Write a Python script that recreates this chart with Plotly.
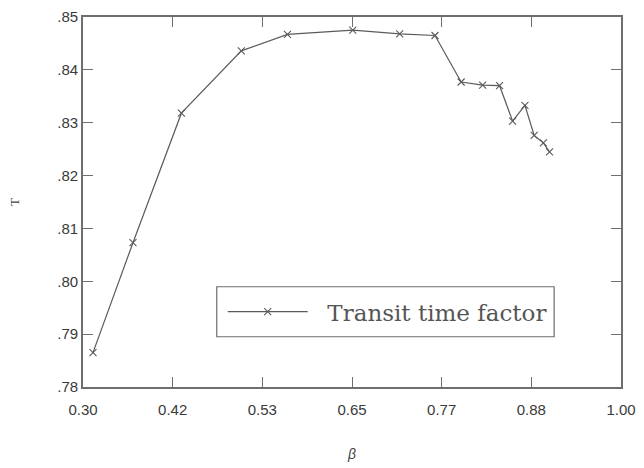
import plotly.graph_objects as go

beta = [0.313, 0.365, 0.428, 0.506, 0.566, 0.651, 0.712, 0.758, 0.792, 0.820,
        0.842, 0.859, 0.875, 0.887, 0.899, 0.907]
transit = [0.7865, 0.8073, 0.8318, 0.8436, 0.8467, 0.8475, 0.8468, 0.8465, 0.8377,
           0.8371, 0.8370, 0.8303, 0.8333, 0.8276, 0.8262, 0.8245]

x_tickvals = [0.3 + k * 0.7 / 6 for k in range(7)]
x_ticktext = ["0.30", "0.42", "0.53", "0.65", "0.77", "0.88", "1.00"]
y_tickvals = [0.78, 0.79, 0.80, 0.81, 0.82, 0.83, 0.84, 0.85]
y_ticktext = [".78", ".79", ".80", ".81", ".82", ".83", ".84", ".85"]

axis_color = "#6e6e6e"
line_color = "#5a5a5a"

fig = go.Figure()
fig.add_trace(go.Scatter(
    x=beta, y=transit, mode="lines+markers",
    name="\u00a0\u00a0Transit time factor",
    line=dict(color=line_color, width=1.2),
    marker=dict(symbol="x-thin", size=7, line=dict(color=line_color, width=1.1)),
))

common = dict(showline=True, linecolor=axis_color, linewidth=1.6, mirror="ticks",
              ticks="inside", ticklen=10, tickcolor=axis_color, tickwidth=1.3,
              showgrid=False, zeroline=False,
              tickfont=dict(family="Liberation Sans, Arial, sans-serif", size=15, color="#3a3a3a"))

fig.update_xaxes(range=[0.3, 1.0], tickvals=x_tickvals, ticktext=x_ticktext,
                 ticklabelstandoff=8,
                 title=dict(text="<i>β</i>", font=dict(family="Liberation Sans, Arial, sans-serif",
                                                      size=14, color="#444"), standoff=32),
                 **common)
fig.update_yaxes(range=[0.78, 0.85], tickvals=y_tickvals, ticktext=y_ticktext,
                 title=dict(text="T", font=dict(family="Liberation Serif, Times New Roman, serif",
                                                size=13, color="#444"), standoff=35),
                 **common)

# legend frame
fig.add_shape(type="rect", xref="paper", yref="paper",
              x0=0.2486, x1=0.8757, y0=0.1358, y1=0.2709,
              line=dict(color=axis_color, width=1.2), fillcolor="white", layer="below")

fig.update_layout(
    width=644, height=468,
    margin=dict(l=83, r=22, t=8, b=75),
    paper_bgcolor="white", plot_bgcolor="white",
    showlegend=True,
    legend=dict(x=0.2597, y=0.2034, xanchor="left", yanchor="middle",
                borderwidth=0, bgcolor="rgba(0,0,0,0)",
                itemwidth=80,
                font=dict(family="DejaVu Serif, serif", size=23, color="#555")),
)

fig.write_html("out.html", config={"displayModeBar": False},
               post_script="document.body.style.margin='0';")
